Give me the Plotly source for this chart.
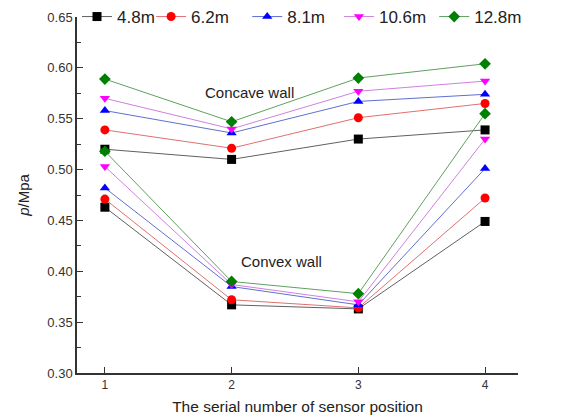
import plotly.graph_objects as go

positions = [1, 2, 3, 4]
series_names = ["4.8m", "6.2m", "8.1m", "10.6m", "12.8m"]

concave_48 = [0.520, 0.510, 0.530, 0.539]
concave_62 = [0.539, 0.521, 0.551, 0.565]
concave_81 = [0.558, 0.536, 0.567, 0.574]
concave_106 = [0.570, 0.540, 0.577, 0.587]
concave_128 = [0.589, 0.547, 0.590, 0.604]

convex_48 = [0.463, 0.367, 0.363, 0.449]
convex_62 = [0.471, 0.372, 0.364, 0.472]
convex_81 = [0.482, 0.385, 0.367, 0.501]
convex_106 = [0.503, 0.387, 0.370, 0.530]
convex_128 = [0.518, 0.390, 0.378, 0.555]

concave = [concave_48, concave_62, concave_81, concave_106, concave_128]
convex = [convex_48, convex_62, convex_81, convex_106, convex_128]

marker_colors = ["#000000", "#ff0000", "#0000ff", "#ff00ff", "#008000"]
line_colors = ["#606060", "#e07070", "#6070d0", "#d080e0", "#60a060"]
symbols = ["square", "circle", "triangle-up", "triangle-down", "diamond"]
legend_ids = ["legend", "legend2", "legend3", "legend4", "legend5"]
legend_x = [0.0, 0.168, 0.386, 0.594, 0.810]

fig = go.Figure()
for i, name in enumerate(series_names):
    for j, data in enumerate([concave[i], convex[i]]):
        fig.add_trace(go.Scatter(
            x=positions, y=data, mode="lines+markers", name=name,
            legendgroup=name, showlegend=(j == 0), legend=legend_ids[i],
            line=dict(color=line_colors[i], width=1),
            marker=dict(symbol=symbols[i], color=marker_colors[i], size=9,
                        line=dict(width=0)),
        ))

fig.add_annotation(x=2.14, y=0.576, text="Concave wall", showarrow=False,
                   font=dict(size=15, color="#222"))
fig.add_annotation(x=2.39, y=0.410, text="Convex wall", showarrow=False,
                   font=dict(size=15, color="#222"))

legend_style = dict(orientation="h", y=1.0, xanchor="left", yanchor="middle",
                    font=dict(size=17), bgcolor="rgba(0,0,0,0)",
                    itemwidth=30, tracegroupgap=0)
layout_legends = {lid: dict(x=lx, **legend_style) for lid, lx in zip(legend_ids, legend_x)}

fig.update_layout(
    width=561, height=417,
    margin=dict(l=77, r=43, t=17, b=44, autoexpand=False),
    plot_bgcolor="white", paper_bgcolor="white",
    font=dict(family="Liberation Sans, Arial", color="#222"),
    showlegend=True,
    **layout_legends,
)
fig.update_xaxes(
    range=[0.78, 4.26], tickvals=positions, ticktext=["1", "2", "3", "4"],
    showline=True, linecolor="#333", linewidth=1.5, ticks="inside", ticklen=6,
    tickcolor="#333", showgrid=False, zeroline=False, tickfont=dict(size=12, color="#333"),
    title=dict(text="The serial number of sensor position", font=dict(size=15.5), standoff=10),
)
fig.update_yaxes(
    range=[0.30, 0.65], dtick=0.05, tickformat=".2f",
    showline=True, linecolor="#333", linewidth=1.5, ticks="inside", ticklen=6,
    tickcolor="#333", showgrid=False, zeroline=False, tickfont=dict(size=13, color="#333"),
    minor=dict(dtick=0.025, ticks="inside", ticklen=4, tickcolor="#333"),
    title=dict(text="<i>p</i>/Mpa", font=dict(size=15), standoff=14),
)

fig.write_html("out.html")
